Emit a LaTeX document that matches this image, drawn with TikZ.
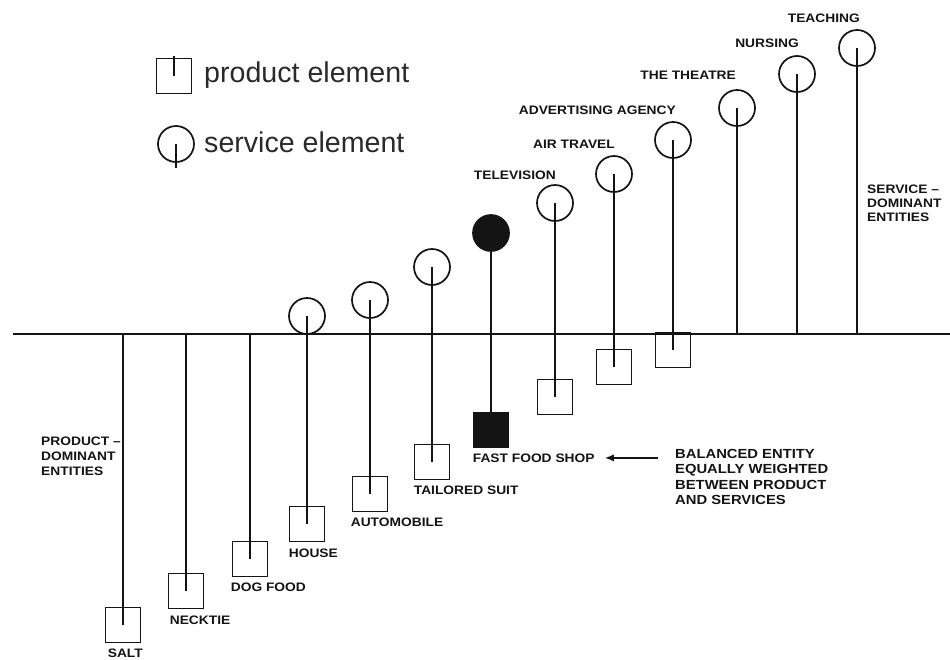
\documentclass[tikz,border=0pt]{standalone}
\usepackage{fontspec}
\setmainfont{Liberation Sans}
\newfontfamily\capsfont[FakeStretch=1.12,UprightFont={* Bold}]{Liberation Sans}
\usepackage{tikz}
\usetikzlibrary{arrows.meta,positioning}
\definecolor{ink}{HTML}{141414}
\definecolor{keytext}{HTML}{2A2A2A}

\begin{document}
\begin{tikzpicture}[x=1pt,y=-1pt,
    prod/.style={draw=ink,line width=1.7pt,minimum size=35pt,inner sep=0pt},
    serv/.style={draw=ink,line width=1.7pt,circle,minimum size=36pt,inner sep=0pt},
    stem/.style={draw=ink,line width=1.7pt},
    lab/.style={inner sep=0pt,text=ink,font=\capsfont\fontsize{12.3}{15}\selectfont},
    keylab/.style={anchor=base west,inner sep=0pt,text=keytext,font=\fontsize{28.6}{30}\selectfont}]
      \useasboundingbox (0,0) rectangle (950,659);
      \coordinate (bl) at (13,334);
      \coordinate (br) at (950,334);
      \draw[stem] (bl) -- (br);

      \node[prod] (key-p) at (174,76) {};
      \draw[stem] (key-p.center) -- ([yshift=2pt]key-p.north);
      \node[keylab] (key-pl) at (204,82) {product element};
      \node[serv] (key-s) at (176,144) {};
      \draw[stem] (key-s.center) -- ([yshift=-5pt]key-s.south);
      \node[keylab] (key-sl) at (204,152) {service element};

      \node[prod] (salt) at (123,625) {};
      \node[prod] (tie) at (186,591) {};
      \node[prod] (dog) at (250,559) {};
      \node[prod] (house) at (307,524) {};
      \node[serv] (house-c) at (307,316) {};
      \node[prod] (auto) at (370,494) {};
      \node[serv] (auto-c) at (370,300) {};
      \node[prod] (suit) at (432,462) {};
      \node[serv] (suit-c) at (432,267) {};
      \node[prod,fill=ink] (ffs) at (491,430) {};
      \node[serv,fill=ink] (ffs-c) at (491,233) {};
      \node[prod] (tv) at (555,397) {};
      \node[serv] (tv-c) at (555,203) {};
      \node[prod] (air) at (614,367) {};
      \node[serv] (air-c) at (614,174) {};
      \node[prod] (adv) at (673,350) {};
      \node[serv] (adv-c) at (673,140) {};
      \node[serv] (thea-c) at (737,108) {};
      \node[serv] (nurs-c) at (797,74) {};
      \node[serv] (teach-c) at (857,48) {};

      \foreach \n in {salt,tie,dog}
        \draw[stem] (\n.center) -- (\n.center |- bl);
      \foreach \n in {house,auto,suit,ffs,tv,air,adv}
        \draw[stem] (\n-c.center) -- (\n.center);
      \foreach \n in {thea,nurs,teach}
        \draw[stem] (\n-c.center) -- (\n-c.center |- bl);

      \node[lab,below right=5pt and 3pt of salt.south west] (salt-l) {SALT};
      \node[lab,below right=6pt and 2pt of tie.south west] (tie-l) {NECKTIE};
      \node[lab,below right=5pt and -1pt of dog.south west] (dog-l) {DOG FOOD};
      \node[lab,below right=6pt and 0pt of house.south west] (house-l) {HOUSE};
      \node[lab,below right=5pt and -1pt of auto.south west] (auto-l) {AUTOMOBILE};
      \node[lab,below right=5pt and 0pt of suit.south west] (suit-l) {TAILORED SUIT};
      \node[lab,below right=5pt and 0pt of ffs.south west] (ffs-l) {FAST FOOD SHOP};

      \node[lab,above left=4pt and -1pt of tv-c.north] (tv-l) {TELEVISION};
      \node[lab,above left=6pt and -1pt of air-c.north] (air-l) {AIR TRAVEL};
      \node[lab,above left=6pt and -3pt of adv-c.north] (adv-l) {ADVERTISING AGENCY};
      \node[lab,above left=9pt and 1pt of thea-c.north] (thea-l) {THE THEATRE};
      \node[lab,above left=7pt and -2pt of nurs-c.north] (nurs-l) {NURSING};
      \node[lab,above left=6pt and -3pt of teach-c.north] (teach-l) {TEACHING};

      \node[lab,align=left,anchor=north west] (pd) at (41,437) {PRODUCT –\\DOMINANT\\ENTITIES};
      \node[lab,align=left,anchor=north west,font=\capsfont\fontsize{12.3}{14}\selectfont] (sd) at (867,185) {SERVICE –\\DOMINANT\\ENTITIES};
      \node[lab,align=left,anchor=north west,font=\capsfont\fontsize{13.2}{15.5}\selectfont] (bal)
        at (675,449) {BALANCED ENTITY\\EQUALLY WEIGHTED\\BETWEEN PRODUCT\\AND SERVICES};
      \draw[-{Latex[length=9pt,width=7pt]},line width=1.3pt,ink] ([xshift=-17pt]bal.west |- ffs-l.east) -- ([xshift=10pt]ffs-l.east);
    \end{tikzpicture}
\end{document}
